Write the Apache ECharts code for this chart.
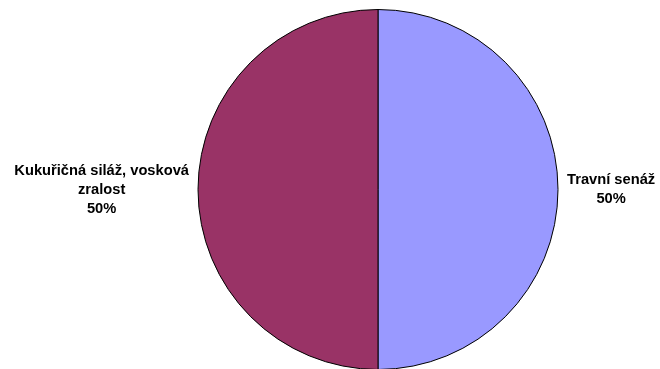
<!DOCTYPE html>
<html>
<head>
<meta charset="utf-8">
<script src="https://cdn.jsdelivr.net/npm/echarts@6/dist/echarts.min.js"></script>
<style>html,body{margin:0;padding:0;background:#fff}#c{width:660px;height:369px}</style>
</head>
<body>
<div id="c"></div>
<script>
const categories = ['Travní senáž', 'Kukuřičná siláž, vosková\nzralost'];
const values = [50, 50];
const colors = ['#9999FF', '#993366'];

const chart = echarts.init(document.getElementById('c'), null, {renderer: 'canvas'});
chart.setOption({
  animation: false,
  series: [{
    type: 'pie',
    center: [378, 189.5],
    radius: 180,
    startAngle: 90,
    clockwise: true,
    avoidLabelOverlap: false,
    data: categories.map((c, i) => ({name: c, value: values[i], itemStyle: {color: colors[i]}})),
    itemStyle: {borderColor: '#000', borderWidth: 1},
    emphasis: {disabled: true},
    label: {
      show: true,
      position: 'outside',
      distanceToLabelLine: 9,
      formatter: p => '{t|' + p.name + '}\n{t|' + Math.round(p.percent) + '%}',
      rich: {
        t: {align: 'center', fontFamily: 'Liberation Sans, Arial, sans-serif', fontWeight: 'bold', fontSize: 14.7, lineHeight: 19, color: '#000'}
      }
    },
    labelLine: {show: false, length: 0, length2: 0}
  }]
});
</script>
</body>
</html>
